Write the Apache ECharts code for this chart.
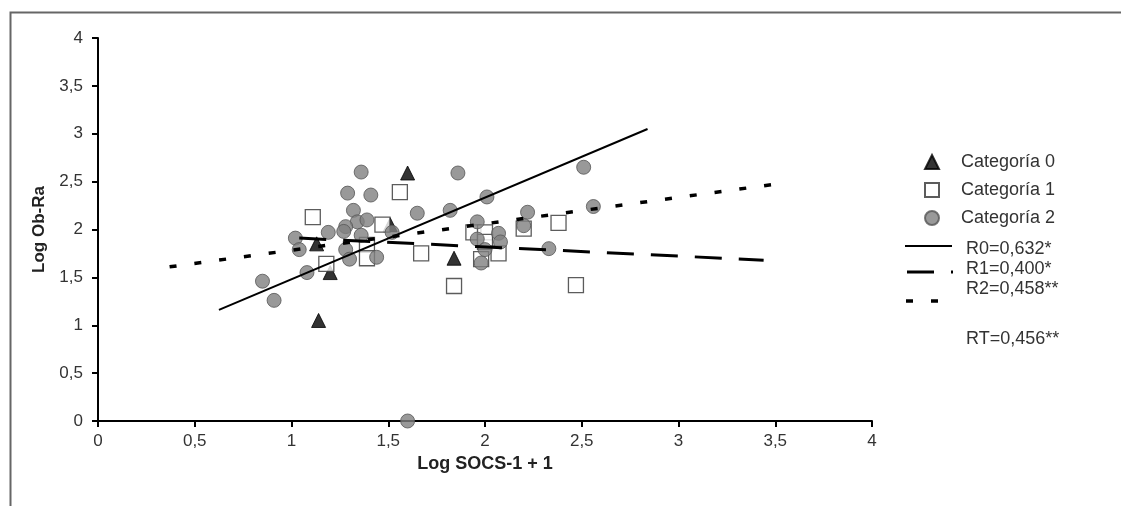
<!DOCTYPE html>
<html>
<head>
<meta charset="utf-8">
<script src="https://cdn.jsdelivr.net/npm/echarts@6/dist/echarts.min.js"></script>
<style>
  html, body { margin: 0; padding: 0; background: #fff; }
  #chart { width: 1121px; height: 506px; }
</style>
</head>
<body>
<div id="chart"></div>
<script>
// points: [log SOCS-1 + 1, log Ob-Ra]
var cat0 = [[1.13, 1.85], [1.20, 1.55], [1.14, 1.05], [1.51, 2.05], [1.60, 2.59], [1.84, 1.70]];
var cat1 = [[1.11, 2.13], [1.18, 1.64], [1.39, 1.84], [1.39, 1.70], [1.47, 2.05], [1.56, 2.39],
            [1.67, 1.75], [1.84, 1.41], [1.94, 1.97], [2.00, 1.97], [2.00, 1.87], [2.07, 1.75],
            [1.98, 1.69], [2.20, 2.01], [2.38, 2.07], [2.47, 1.42]];
var cat2 = [[1.36, 2.60], [1.29, 2.38], [1.41, 2.36], [1.32, 2.20], [1.34, 2.08], [1.39, 2.10],
            [1.28, 2.03], [1.27, 1.98], [1.36, 1.94], [1.19, 1.97], [1.02, 1.91], [1.04, 1.79],
            [1.28, 1.79], [1.30, 1.69], [1.44, 1.71], [1.08, 1.55], [0.85, 1.46], [0.91, 1.26],
            [1.86, 2.59], [2.01, 2.34], [1.65, 2.17], [1.82, 2.20], [1.52, 1.97], [1.96, 2.08],
            [1.96, 1.90], [2.07, 1.96], [2.08, 1.87], [2.00, 1.79], [1.98, 1.65], [2.22, 2.18],
            [2.20, 2.04], [2.33, 1.80], [2.51, 2.65], [2.56, 2.24], [1.60, 0.00]];
// regression lines (ends)
var r0Line = [[0.625, 1.16], [2.84, 3.05]];
var r1Line = [[1.04, 1.91], [3.44, 1.68]];
var r2Line = [[0.37, 1.61], [3.56, 2.49]];

var catNames = ['Categoría 0', 'Categoría 1', 'Categoría 2'];
var lineNames = ['R0=0,632*', 'R1=0,400*', 'R2=0,458**'];
var totalText = 'RT=0,456**';

var FONT = '"Liberation Sans", Arial, sans-serif';
var LINE_DASH = ['solid', [27, 17], [7, 18]];
var LINE_WIDTH = [2, 3, 3.5];

function comma(v) { return String(v).replace('.', ','); }

function axisCommon(name) {
  return {
    type: 'value', min: 0, max: 4, interval: 0.5,
    name: name, nameLocation: 'middle',
    nameTextStyle: { fontFamily: FONT, fontWeight: 'bold', fontSize: 17, color: '#222' },
    axisLine: { show: true, onZero: false, lineStyle: { color: '#000', width: 2 } },
    axisTick: { show: true, length: 6, lineStyle: { color: '#000', width: 2 } },
    axisLabel: { formatter: comma, fontFamily: FONT, fontSize: 17, color: '#333' },
    splitLine: { show: false }
  };
}

var chart = echarts.init(document.getElementById('chart'));
var xAx = axisCommon('Log SOCS-1 + 1');
xAx.nameGap = 32;
xAx.nameTextStyle.fontSize = 18;
xAx.axisLabel.margin = 12;
var yAx = axisCommon('Log Ob-Ra');
yAx.nameGap = 50;
yAx.nameRotate = 90;
yAx.axisLabel.margin = 15;

// hand-drawn keys for the regression lines (legend draws only their text)
var lineKeys = [
  { y: 246, x1: 905, x2: 952 },
  { y: 272, x1: 907, x2: 953 },
  { y: 301, x1: 906, x2: 940 }
].map(function (k, i) {
  return {
    type: 'line', silent: true,
    shape: { x1: k.x1, y1: k.y, x2: k.x2, y2: k.y },
    style: { stroke: '#000', lineWidth: LINE_WIDTH[i], lineDash: LINE_DASH[i] === 'solid' ? null : LINE_DASH[i] }
  };
});

chart.setOption({
  backgroundColor: '#fff',
  animation: false,
  grid: { left: 98, right: 249, top: 38, bottom: 85 },
  xAxis: xAx,
  yAxis: yAx,
  legend: [{
    data: catNames, orient: 'vertical', left: 919, top: 148,
    itemWidth: 14, itemHeight: 14, itemGap: 10,
    textStyle: { fontFamily: FONT, fontSize: 18, lineHeight: 18, color: '#333', padding: [0, 0, 0, 17] }
  }, {
    data: lineNames.map(function (n) { return { name: n, icon: 'none' }; }),
    orient: 'vertical', left: 905, top: 235,
    itemWidth: 51, itemHeight: 14, itemGap: 2,
    textStyle: { fontFamily: FONT, fontSize: 18, lineHeight: 18, color: '#333' }
  }],
  graphic: [{
    type: 'rect', left: 8, top: 10, silent: true,
    shape: { width: 1200, height: 600 },
    style: { fill: 'none', stroke: '#666', lineWidth: 2 }
  }, {
    type: 'text', left: 966, top: 330,
    style: { text: totalText, font: '18px ' + FONT, fill: '#333' }
  }].concat(lineKeys),
  series: [{
    name: catNames[0], type: 'scatter', data: cat0, symbol: 'triangle', symbolSize: 14, z: 3,
    itemStyle: { color: '#000', borderColor: '#000', borderWidth: 1 }
  }, {
    name: catNames[1], type: 'scatter', data: cat1, symbol: 'rect', symbolSize: 15, z: 3,
    itemStyle: { color: '#fff', borderColor: '#333', borderWidth: 1.3 }
  }, {
    name: catNames[2], type: 'scatter', data: cat2, symbol: 'circle', symbolSize: 14, z: 3,
    itemStyle: { color: '#7f7f7f', borderColor: '#555', borderWidth: 1 }
  }].concat(lineNames.map(function (n, i) {
    return {
      name: n, type: 'line', data: [r0Line, r1Line, r2Line][i], symbol: 'none', z: 4,
      lineStyle: { color: '#000', width: LINE_WIDTH[i], type: LINE_DASH[i] }
    };
  }))
});
</script>
</body>
</html>
